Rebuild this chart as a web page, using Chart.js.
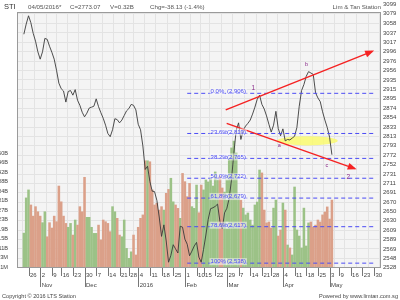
<!DOCTYPE html>
<html>
<head>
<meta charset="utf-8">
<script src="https://cdn.jsdelivr.net/npm/chart.js@4.4.1/dist/chart.umd.min.js"></script>
<style>
  html, body { margin: 0; padding: 0; background: #fff; }
  #wrap { position: relative; width: 400px; height: 300px; }
  .txt { position: absolute; font: 6.2px "Liberation Sans", Arial, sans-serif; color: #555; white-space: nowrap; }
  .foot { font-size: 5.6px; color: #444; }
</style>
</head>
<body>
<div id="wrap">
  <canvas id="stiChart" width="400" height="300"></canvas>
  <div class="txt" style="left:4px;top:2px;font-size:7.5px;color:#333">STI</div>
  <div class="txt" style="left:28px;top:3px">04/05/2016*</div>
  <div class="txt" style="left:70px;top:3px">C=2773.07</div>
  <div class="txt" style="left:110px;top:3px">V=0.32B</div>
  <div class="txt" style="left:150px;top:3px">Chg=-38.13 (-1.4%)</div>
  <div class="txt" style="right:19px;top:3px">Lim &amp; Tan Station</div>
  <div class="txt foot" style="left:2px;top:293px">Copyright © 2016 LTS Station</div>
  <div class="txt foot" style="right:2px;top:293px">Powered by www.limtan.com.sg</div>
</div>
<script>
// daily closes, trading days from 22 Oct 2015 to 4 May 2016
const closes = [3034,3056,3074,3059,3036,3019,2996,2980,2996,3025,
  3023,3008,2995,2980,2956,2928,2916,2911,2887,2910,
  2912,2902,2914,2891,2880,2865,2855,2863,2874,2876,
  2878,2894,2877,2864,2852,2837,2819,2812,2827,2851,
  2849,2842,2848,2858,2868,2873,2882,2880,2870,2839,
  2827,2792,2741,2748,2715,2694,2693,2674,2638,2596,
  2621,2586,2540,2555,2578,2569,2560,2618,2616,2590,
  2579,2554,2564,2575,2583,2551,2540,2568,2599,2633,
  2656,2658,2661,2666,2629,2612,2647,2657,2679,2720,
  2778,2826,2842,2806,2826,2835,2841,2848,2861,2876,
  2893,2902,2882,2872,2857,2839,2822,2837,2867,2830,
  2814,2829,2803,2806,2805,2809,2813,2832,2878,2912,
  2925,2943,2953,2950,2947,2907,2896,2888,2866,2848,
  2832,2811,2773];

// volume in millions
const volumes = [180,325,358,296,250,289,268,250,223,268,
  165,223,201,250,227,374,309,250,220,204,
  220,172,234,213,289,268,410,245,245,204,
  179,179,213,152,234,227,220,186,289,268,
  241,172,165,234,117,76,103,172,90,204,
  241,255,478,478,474,358,296,303,275,289,
  275,344,360,406,309,296,282,241,426,392,
  330,385,289,282,378,264,378,358,399,391,
  407,374,432,399,415,366,349,415,489,531,
  559,510,333,316,283,255,263,234,213,296,
  308,440,428,275,222,226,201,283,316,168,
  193,304,275,131,119,90,370,193,168,119,
  283,127,222,226,205,213,234,226,255,267,
  288,238,316];

// x axis: first trading day of each week (index into the day list)
const weekTickIdx = [2,7,12,16,21,26,31,36,41,45,49,54,59,64,69,74,77,82,87,92,97,102,106,111,116,121,126,131,135,140,145,150];
const weekTickLabels = ['26','2','9','16','23','30','7','14','21','28','4','11','18','25','1','10','15','22','29','7','14','21','28','4','11','18','25','3','9','16','23','30'];
const monthTickIdx = [7,26,49,69,87,111,131];
const monthNames = ['Nov','Dec','2016','Feb','Mar','Apr','May'];

const priceTicks = [2528,2548,2569,2589,2609,2630,2650,2670,2691,2711,2731,2752,2772,2793,2813,2833,2854,2874,2895,2915,2935,2956,2976,2996,3017,3037,3058,3079,3099];
const volTicks = [39.14,78.28,117.4,156.6,195.7,234.8,274,313.1,352.3,391.4,430.5,469.7,508.8];
const volTickLabels = ['39.1M','78.3M','0.11B','0.15B','0.19B','0.23B','0.27B','0.31B','0.34B','0.38B','0.42B','0.46B','0.50B'];

const fibPct = ['0.0%','23.6%','38.2%','50.0%','61.8%','78.6%','100%'];
const fibLevels = [2906,2819,2765,2722,2679,2617,2538];
const fibFrom = 70, fibTo = 150.6;

const upperTrend = [{x: 86.5, y: 2870}, {x: 149.3, y: 2997}];
const lowerTrend = [{x: 86.9, y: 2841}, {x: 141.8, y: 2743}];

const waveText = ['1', 'a', 'b', 'c', '2'];
const waveX = [98.3, 109.5, 121.1, 129.8, 139];
const waveY = [2917, 2793, 2969, 2750, 2724];

const greenBar = '#9cc287';
const redBar = '#dba089';

const volumeData = volumes.map((v, i) => ({x: i, y: v}));
const closeData = closes.map((c, i) => ({x: i, y: c}));
const barColors = closes.map((c, i) => (i === 0 || c >= closes[i - 1]) ? greenBar : redBar);

const fibSets = fibLevels.map(lv => ({
  type: 'line',
  data: [{x: fibFrom, y: lv}, {x: fibTo, y: lv}],
  yAxisID: 'yp',
  borderColor: '#4b4bf5',
  borderWidth: 1,
  borderDash: [4, 3],
  pointRadius: 0,
  order: 3
}));

const trendSet = (pts) => ({
  type: 'line',
  data: pts,
  yAxisID: 'yp',
  borderColor: '#f52222',
  borderWidth: 1.4,
  pointRadius: 0,
  order: 1
});

const drawExtras = {
  id: 'drawExtras',
  beforeDraw(chart) {
    const {ctx, chartArea: a} = chart;
    ctx.save();
    ctx.fillStyle = '#f4f4f4';
    ctx.fillRect(a.left, a.top, a.width, a.height);
    ctx.restore();
  },
  beforeDatasetsDraw(chart) {
    const {ctx} = chart;
    const xs = chart.scales.x, ys = chart.scales.yp;
    // yellow ellipse round the support zone
    const cx = xs.getPixelForValue(121.5), cy = ys.getPixelForValue(2803);
    const rx = xs.getPixelForValue(121.5 + 13) - cx;
    const ry = cy - ys.getPixelForValue(2803 + 10);
    ctx.save();
    ctx.fillStyle = 'rgba(250,250,110,0.85)';
    ctx.beginPath();
    ctx.ellipse(cx, cy, rx, ry, 0, 0, Math.PI * 2);
    ctx.fill();
    ctx.restore();
  },
  afterDatasetsDraw(chart) {
    const {ctx} = chart;
    const xs = chart.scales.x, ys = chart.scales.yp;
    ctx.save();
    // arrow heads
    [upperTrend, lowerTrend].forEach(pts => {
      const x1 = xs.getPixelForValue(pts[0].x), y1 = ys.getPixelForValue(pts[0].y);
      const x2 = xs.getPixelForValue(pts[1].x), y2 = ys.getPixelForValue(pts[1].y);
      const ang = Math.atan2(y2 - y1, x2 - x1);
      ctx.fillStyle = '#f52222';
      ctx.beginPath();
      ctx.moveTo(x2 + 2 * Math.cos(ang), y2 + 2 * Math.sin(ang));
      ctx.lineTo(x2 - 7 * Math.cos(ang) + 3.5 * Math.sin(ang), y2 - 7 * Math.sin(ang) - 3.5 * Math.cos(ang));
      ctx.lineTo(x2 - 7 * Math.cos(ang) - 3.5 * Math.sin(ang), y2 - 7 * Math.sin(ang) + 3.5 * Math.cos(ang));
      ctx.closePath();
      ctx.fill();
    });
    // fib labels
    ctx.font = '6px "Liberation Sans", Arial, sans-serif';
    ctx.textBaseline = 'middle';
    fibLevels.forEach((lv, i) => {
      const y = ys.getPixelForValue(lv) - 1.5;
      const x1 = xs.getPixelForValue(80);
      const x2 = xs.getPixelForValue(87);
      const val = '(' + lv.toLocaleString('en-US') + ')';
      ctx.fillStyle = 'rgba(250,250,250,0.55)';
      ctx.fillRect(x1 - 1, y - 3.5, ctx.measureText(fibPct[i]).width + 2, 7);
      ctx.fillRect(x2 - 1, y - 3.5, ctx.measureText(val).width + 2, 7);
      ctx.fillStyle = '#4b4bf5';
      ctx.fillText(fibPct[i], x1, y);
      ctx.fillText(val, x2, y);
    });
    // wave count
    ctx.fillStyle = '#8a2a8a';
    ctx.textAlign = 'center';
    waveText.forEach((t, i) => {
      ctx.font = (/\d/.test(t) ? '6.5px' : '5.5px') + ' "Liberation Sans", Arial, sans-serif';
      ctx.fillText(t, xs.getPixelForValue(waveX[i]), ys.getPixelForValue(waveY[i]));
    });
    ctx.restore();
  },
  afterDraw(chart) {
    const {ctx, chartArea: a} = chart;
    const xs = chart.scales.x;
    ctx.save();
    ctx.strokeStyle = '#9a9a9a';
    ctx.lineWidth = 1;
    ctx.strokeRect(a.left + 0.5, a.top + 0.5, a.width - 1, a.height - 1);
    ctx.strokeStyle = '#777';
    weekTickIdx.forEach(v => {
      const px = Math.round(xs.getPixelForValue(v)) + 0.5;
      const len = monthTickIdx.includes(v) ? 19 : 8;
      ctx.beginPath();
      ctx.moveTo(px, a.bottom);
      ctx.lineTo(px, a.bottom + len);
      ctx.stroke();
    });
    ctx.restore();
  }
};

new Chart(document.getElementById('stiChart'), {
  data: {
    datasets: [
      {
        type: 'line',
        data: closeData,
        yAxisID: 'yp',
        borderColor: '#3a3a3a',
        borderWidth: 0.9,
        pointRadius: 0,
        tension: 0,
        order: 5
      },
      ...fibSets,
      trendSet(upperTrend),
      trendSet(lowerTrend),
      {
        type: 'bar',
        data: volumeData,
        yAxisID: 'yv',
        backgroundColor: barColors,
        barThickness: 1.9,
        order: 10
      }
    ]
  },
  plugins: [drawExtras],
  options: {
    responsive: false,
    animation: false,
    layout: { padding: { top: 12, left: 0, right: 0, bottom: 0 } },
    plugins: { legend: { display: false }, tooltip: { enabled: false } },
    scales: {
      x: {
        type: 'linear',
        min: -0.5,
        max: 150.6,
        afterBuildTicks: (scale) => { scale.ticks = weekTickIdx.map(v => ({value: v})); },
        afterFit: (scale) => { scale.height = 32; },
        grid: { color: '#e3e3e3', drawTicks: false },
        border: { display: false },
        ticks: {
          autoSkip: false,
          maxRotation: 0,
          align: 'start',
          labelOffset: 1.5,
          padding: 2,
          color: '#444',
          font: { family: '"Liberation Sans", Arial, sans-serif', size: 6, lineHeight: 1.65 },
          callback: (v) => {
            const i = weekTickIdx.indexOf(v);
            const m = monthTickIdx.indexOf(v);
            return [weekTickLabels[i], m >= 0 ? monthNames[m] : ''];
          }
        }
      },
      yv: {
        position: 'left',
        min: 36.3,
        max: 1091,
        afterBuildTicks: (scale) => { scale.ticks = volTicks.map(v => ({value: v})); },
        afterFit: (scale) => { scale.width = 17; },
        grid: { display: false },
        border: { display: false },
        ticks: {
          autoSkip: false,
          padding: 1,
          color: '#444',
          font: { family: '"Liberation Sans", Arial, sans-serif', size: 5.6 },
          callback: (v, i) => volTickLabels[i]
        }
      },
      yp: {
        position: 'right',
        min: 2527.5,
        max: 3082.2,
        afterBuildTicks: (scale) => {
          // the top label sits just above the plot box, as in the source chart
          scale.ticks = priceTicks.map(v => ({value: v}));
        },
        afterFit: (scale) => { scale.width = 19; },
        grid: {
          color: (c) => (c.tick && c.tick.value > 3082.2) ? 'rgba(0,0,0,0)' : '#e3e3e3',
          drawTicks: false
        },
        border: { display: false },
        ticks: {
          autoSkip: false,
          padding: 2,
          color: '#444',
          font: { family: '"Liberation Sans", Arial, sans-serif', size: 6 },
          callback: (v) => String(v)
        }
      }
    }
  }
});
</script>
</body>
</html>
